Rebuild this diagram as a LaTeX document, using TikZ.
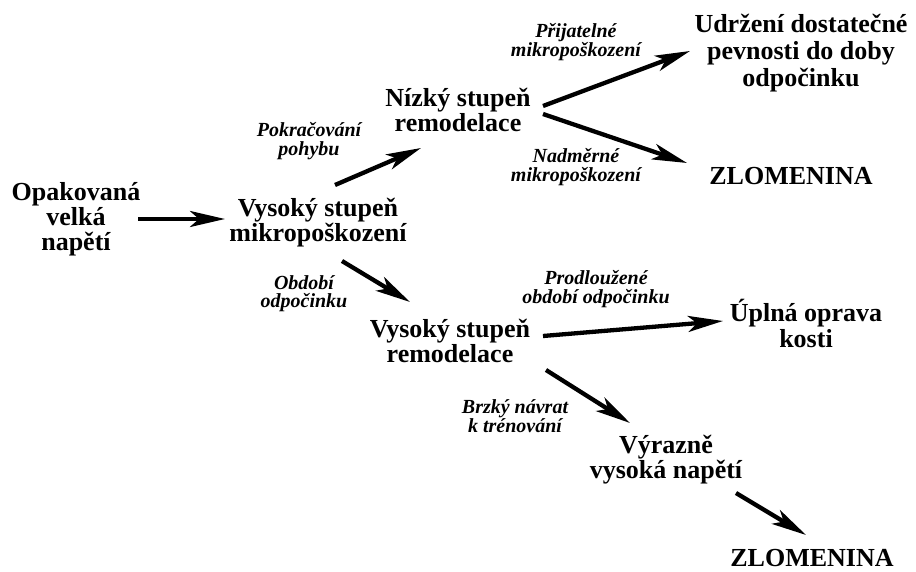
\documentclass[tikz,border=0pt]{standalone}
\usepackage{fontspec}
\setmainfont{Liberation Serif}
\usetikzlibrary{arrows.meta,calc}
\begin{document}
\begin{tikzpicture}[x=1pt,y=-1pt,
  main/.style={font=\bfseries\fontsize{26}{25}\selectfont,align=center,anchor=base,inner sep=0pt},
  lab/.style={font=\bfseries\itshape\fontsize{20}{19}\selectfont,align=center,anchor=base,inner sep=0pt},
  arr/.style={line width=4.3pt,-{Stealth[length=35pt,width=16pt,inset=9pt]}}]
\useasboundingbox (0,0) rectangle (916,572);
\node[main] (op) at (76,251) {Opakovaná\\velká\\napětí};
\node[main] (vm) at (318,242) {Vysoký stupeň\\mikropoškození};
\node[main] (nl) at (458,132) {Nízký stupeň\\remodelace};
\node[main,font=\bfseries\fontsize{26}{27}\selectfont] (ud) at (801,87) {Udržení dostatečné\\pevnosti do doby\\odpočinku};
\node[main] (z1) at (791,185) {ZLOMENINA};
\node[main] (vr) at (450,362) {Vysoký stupeň\\remodelace};
\node[main,font=\bfseries\fontsize{26}{26}\selectfont] (up) at (806,347) {Úplná oprava\\kosti};
\node[main] (vv) at (666,478) {Výrazně\\vysoká napětí};
\node[main] (z2) at (812,566) {ZLOMENINA};
\node[lab] (l1) at (309,156) {Pokračování\\pohybu};
\node[lab] (l2) at (304,308) {Období\\odpočinku};
\node[lab] (l3) at (576,57) {Přijatelné\\mikropoškození};
\node[lab] (l4) at (576,182) {Nadměrné\\mikropoškození};
\node[lab] (l5) at (596,303) {Prodloužené\\období odpočinku};
\node[lab] (l6) at (515,432) {Brzký návrat\\k trénování};
\draw[arr] ($(op.base)+(62,-32)$) -- ($(vm.base)+(-93,-23)$);
\draw[arr] ($(vm.base)+(17,-57)$) -- ($(nl.base)+(-37,16)$);
\draw[arr] ($(vm.base)+(24,19)$) -- ($(vr.base)+(-40,-60)$);
\draw[arr] ($(nl.base)+(85,-26)$) -- ($(ud.base)+(-111,-36)$);
\draw[arr] ($(nl.base)+(85,-18)$) -- ($(z1.base)+(-104,-22)$);
\draw[arr] ($(vr.base)+(93,-26)$) -- ($(up.base)+(-83,-26)$);
\draw[arr] ($(vr.base)+(96,8)$) -- ($(vv.base)+(-36,-55)$);
\draw[arr] ($(vv.base)+(70,15)$) -- ($(z2.base)+(-6,-31)$);
\end{tikzpicture}
\end{document}
